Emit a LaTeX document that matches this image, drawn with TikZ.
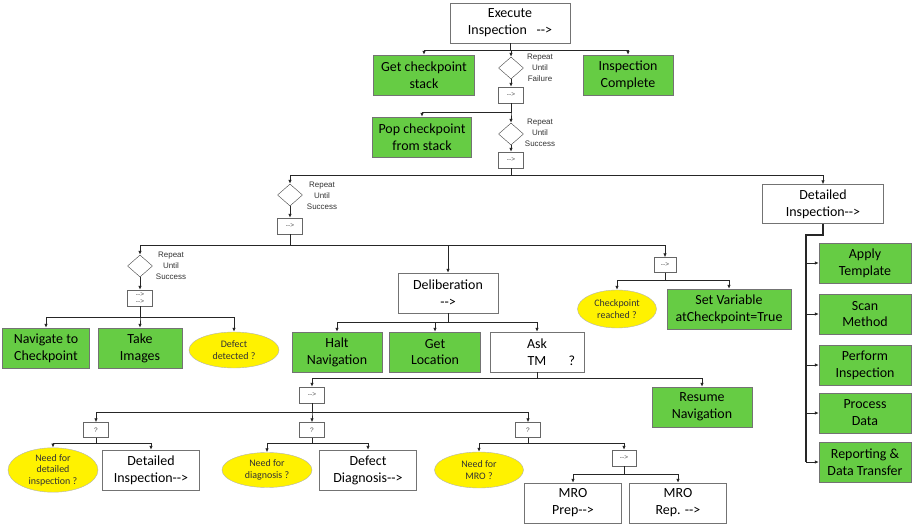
\documentclass[tikz,border=0pt]{standalone}
\usepackage{fontspec}
\setmainfont{Carlito}
\newfontfamily\smallsans{Liberation Sans}
\usetikzlibrary{shapes.geometric,arrows.meta}
\definecolor{actgreen}{RGB}{102,204,68}
\definecolor{condyellow}{RGB}{255,242,0}
\newcommand{\goes}{-{}->}

\begin{document}
\begin{tikzpicture}[x=1bp,y=-1bp]
\tikzstyle{every node}=[inner sep=1pt, align=center]
\tikzstyle{box}=[rectangle, draw=black!55, fill=white, minimum width=97bp,
                 minimum height=40bp, font=\fontsize{14}{17}\selectfont]
\tikzstyle{act}=[box, fill=actgreen]
\tikzstyle{cond}=[ellipse, draw=black!30, fill=condyellow, minimum width=90bp,
                  minimum height=36bp, inner sep=0pt,
                  font=\fontsize{10}{11.5}\selectfont, text=black!80]
\tikzstyle{ctrl}=[rectangle, draw=black!60, fill=white, minimum width=25bp,
                  minimum height=16bp, font=\smallsans\fontsize{6.5}{7}\selectfont,
                  text=black!70]
\tikzstyle{loop}=[diamond, draw=black!75, minimum width=25bp,
                  minimum height=22bp, inner sep=0pt]
\tikzstyle{note}=[font=\smallsans\fontsize{8}{11}\selectfont, text=black!80]
\tikzstyle{flow}=[draw=black!85, line width=0.8bp,
                  -{Latex[length=4bp,width=3.5bp]}]
\useasboundingbox (0,0) rectangle (913,526);
% top of the tree
\node[box, minimum width=120bp] (exec) at (510,23) {Execute\\Inspection\hspace{0.7em}\goes};
\node[act, minimum width=101bp] (getstack) at (424,75) {Get checkpoint\\stack};
\node[act, minimum width=90bp] (done) at (628,75) {Inspection\\Complete};
\node[loop] (loopA) at (511,68) {};
\node[note] (noteA) at (540,68) {Repeat\\Until\\Failure};
\node[ctrl] (ctrlA) at (511,95) {\goes};
\node[act, minimum width=99bp] (pop) at (422,137) {Pop checkpoint\\from stack};
\node[loop] (loopB) at (511,134) {};
\node[note] (noteB) at (540,133) {Repeat\\Until\\Success};
\node[ctrl] (ctrlB) at (511,160) {\goes};
% navigation branch
\node[loop] (loopC) at (290,195) {};
\node[note] (noteC) at (322,196) {Repeat\\Until\\Success};
\node[ctrl] (ctrlC) at (290,226) {\goes};
\node[loop] (loopD) at (140,266) {};
\node[note] (noteD) at (171,266) {Repeat\\Until\\Success};
\node[ctrl] (ctrlD) at (140,298) {\goes\\\goes};
\node[act, minimum width=87bp] (nav) at (46,348) {Navigate to\\Checkpoint};
\node[act, minimum width=84bp] (images) at (140,348) {Take\\Images};
\node[cond] (defect) at (234,350) {Defect\\detected ?};
\node[box, minimum width=100bp] (delib) at (448,293) {Deliberation\\\goes};
\node[ctrl, minimum width=22bp, minimum height=15bp] (ctrlE) at (665,265) {\goes};
\node[cond, minimum width=79bp, minimum height=38bp] (reached) at (617,309) {Checkpoint\\reached ?};
\node[act, minimum width=124bp] (setvar) at (729,309) {Set Variable\\atCheckpoint=True};
\node[act, minimum width=90bp] (halt) at (337,352) {Halt\\Navigation};
\node[act, minimum width=91bp] (getloc) at (435,352) {Get\\Location};
\node[box, minimum width=94bp] (asktm) at (537,352) {Ask\\TM\rlap{\hspace{1.6em}?}};
\node[act, minimum width=100bp] (resume) at (702,407) {Resume\\Navigation};
% asking the task manager
\node[ctrl] (ctrlF) at (312,395) {\goes};
\node[ctrl, minimum height=15bp] (selA) at (96,430) {?};
\node[ctrl, minimum height=15bp] (selB) at (312,430) {?};
\node[ctrl, minimum height=15bp] (selC) at (528,430) {?};
\node[cond] (needDI) at (53,470) {Need for\\detailed\\inspection ?};
\node[box] (detailB) at (151,470) {Detailed\\Inspection\goes};
\node[cond, minimum height=35bp] (needDiag) at (267,470) {Need for\\diagnosis ?};
\node[box] (diag) at (368,470) {Defect\\Diagnosis\goes};
\node[cond, minimum width=89bp] (needMRO) at (479,470) {Need for\\MRO ?};
\node[ctrl, minimum width=24bp] (ctrlG) at (624,458) {\goes};
\node[box] (prep) at (573,503) {MRO\\Prep\goes};
\node[box] (rep) at (678,503) {MRO\\Rep. \goes};
% detailed inspection
\node[box, minimum width=121bp, minimum height=39bp] (detail) at (823,204) {Detailed\\Inspection\goes};
\node[act, minimum width=92bp] (tmpl) at (865,263) {Apply\\Template};
\node[act, minimum width=92bp] (scan) at (865,314) {Scan\\Method};
\node[act, minimum width=92bp] (perf) at (865,365) {Perform\\Inspection};
\node[act, minimum width=92bp] (proc) at (865,413) {Process\\Data};
\node[act, minimum width=92bp] (report) at (865,462) {Reporting \&\\Data Transfer};
\coordinate (spine) at (806,235);

\foreach \a/\b/\d in {exec/getstack/7, exec/loopA/7, exec/done/7,
    ctrlA/pop/9, ctrlA/loopB/9, ctrlB/loopC/7, ctrlB/detail/7,
    ctrlC/loopD/11, ctrlC/delib/11, ctrlC/ctrlE/11,
    ctrlD/nav/11, ctrlD/images/11, ctrlD/defect/11,
    ctrlE/reached/8, ctrlE/setvar/8,
    delib/halt/9, delib/getloc/9, delib/asktm/9,
    asktm/ctrlF/6, asktm/resume/6,
    ctrlF/selA/9, ctrlF/selB/9, ctrlF/selC/9,
    selA/needDI/6, selA/detailB/6, selB/needDiag/6, selB/diag/6,
    selC/needMRO/6, selC/ctrlG/6, ctrlG/prep/8, ctrlG/rep/8}
  {\draw[flow] (\a.south) -- ++(0,\d) -| (\b.north);}
\foreach \a/\b in {loopA/ctrlA, loopB/ctrlB, loopC/ctrlC, loopD/ctrlD}
  {\draw[flow] (\a) -- (\b);}
\draw[black!85, line width=1.8bp] (detail.south) |- (spine) -- (spine |- report.west);
\foreach \b in {tmpl,scan,perf,proc,report}
  {\draw[flow] (spine |- \b.west) -- (\b.west);}
\end{tikzpicture}
\end{document}
